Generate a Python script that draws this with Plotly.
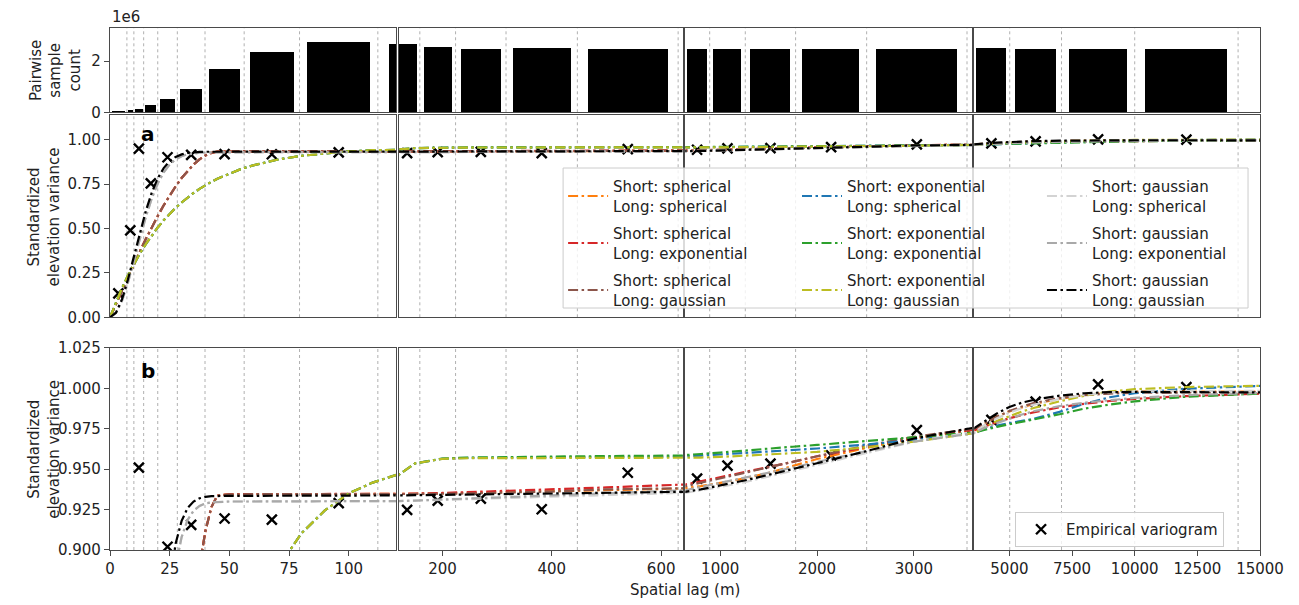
import plotly.graph_objects as go

# ---------------- data ----------------
bin_edges = [0, 7.08, 10.0, 14.1, 20.0, 28.2, 39.8, 56.2, 79.4, 112.2, 158.5, 223.9,
             316.2, 446.7, 631.0, 891.3, 1258.9, 1778.3, 2511.9, 3548.1, 5011.9,
             7079.5, 10000.0, 14125.4]
bin_centers = [3.5, 8.5, 12.1, 17.1, 24.1, 34.0, 48.0, 67.8, 95.8, 135.3, 191.2, 270.1,
               381.5, 538.9, 761.2, 1075.1, 1518.6, 2145.1, 3030.0, 4280.0, 6045.7,
               8539.7, 12062.7]
pair_count = [0.05e6, 0.09e6, 0.11e6, 0.28e6, 0.52e6, 0.90e6, 1.69e6, 2.35e6, 2.75e6,
              2.66e6, 2.56e6, 2.49e6, 2.51e6, 2.49e6,
              2.48e6, 2.48e6, 2.49e6, 2.48e6, 2.48e6,
              2.52e6, 2.49e6, 2.48e6, 2.47e6]
empirical = [0.135, 0.49, 0.951, 0.755, 0.902, 0.9155, 0.9195, 0.9188, 0.929,
             0.9248, 0.9305, 0.9318, 0.9252, 0.9478,
             0.9442, 0.9522, 0.9535, 0.9585, 0.9742,
             0.9805, 0.9918, 1.0025, 1.0008]

lag = [0, 2.5, 5, 7.5, 10, 12.5, 15, 17.5, 20, 22.5, 25, 27.5, 30, 32.5, 35, 37.5, 40,
       42.5, 45, 50, 55, 60, 70, 80, 90, 100, 110, 120,
       150, 200, 250, 300, 400, 500, 640,
       800, 1000, 1250, 1500, 1750, 2000, 2500, 3000, 3600,
       4000, 4500, 5000, 5500, 6000, 7000, 8000, 9000, 10000, 12000, 15000]

var_sph_sph = [0, 0.076, 0.152, 0.2265, 0.300, 0.3715, 0.441, 0.5076, 0.571, 0.631, 0.687,
               0.738, 0.785, 0.826, 0.861, 0.890, 0.912, 0.9266, 0.9338, 0.9345, 0.9345,
               0.9345, 0.9345, 0.9345, 0.9345, 0.9346, 0.9346, 0.9347,
               0.9348, 0.935, 0.9353, 0.9356, 0.9363, 0.937, 0.938,
               0.9395, 0.9415, 0.9443, 0.9477, 0.952, 0.9563, 0.963, 0.969, 0.9745,
               0.978, 0.9825, 0.9858, 0.988, 0.9905, 0.9935, 0.996, 0.9975, 0.998, 0.998, 0.998]
var_sph_exp = [0, 0.076, 0.152, 0.2265, 0.300, 0.3715, 0.441, 0.5076, 0.571, 0.631, 0.687,
               0.738, 0.785, 0.826, 0.861, 0.890, 0.912, 0.9266, 0.9338, 0.9345, 0.9345,
               0.9345, 0.9345, 0.9345, 0.9346, 0.9346, 0.9347, 0.9348,
               0.9349, 0.9353, 0.9358, 0.9363, 0.9374, 0.9387, 0.9405,
               0.9425, 0.945, 0.948, 0.951, 0.9545, 0.958, 0.9637, 0.969, 0.974,
               0.9765, 0.9792, 0.9815, 0.9835, 0.9853, 0.9883, 0.9905, 0.9922, 0.9935, 0.9952, 0.9967]
var_sph_gau = [0, 0.076, 0.152, 0.2265, 0.300, 0.3715, 0.441, 0.5076, 0.571, 0.631, 0.687,
               0.738, 0.785, 0.826, 0.861, 0.890, 0.912, 0.9266, 0.9338, 0.9345, 0.9345,
               0.9345, 0.9345, 0.9345, 0.9345, 0.9345, 0.9345, 0.9345,
               0.9346, 0.9348, 0.935, 0.9353, 0.9362, 0.9375, 0.9394,
               0.9415, 0.9442, 0.9477, 0.9512, 0.9547, 0.958, 0.9645, 0.970, 0.975,
               0.9785, 0.9825, 0.986, 0.9888, 0.991, 0.994, 0.9958, 0.9968, 0.9973, 0.9976, 0.9977]
var_exp_sph = [0, 0.0859, 0.1637, 0.2355, 0.2997, 0.359, 0.4125, 0.4613, 0.5063, 0.5465,
               0.5828, 0.6173, 0.647, 0.6747, 0.7005, 0.7235, 0.7445, 0.7637, 0.781, 0.8106,
               0.8364, 0.8565, 0.888, 0.910, 0.9245, 0.935, 0.9417, 0.9465,
               0.9536, 0.9565, 0.957, 0.9572, 0.9574, 0.9576, 0.9579,
               0.9584, 0.9591, 0.96, 0.961, 0.9619, 0.9628, 0.9652, 0.968, 0.9725,
               0.9748, 0.977, 0.9785, 0.980, 0.9813, 0.9855, 0.9905, 0.9945, 0.997, 0.9998, 1.0015]
var_exp_exp = [0, 0.0859, 0.1637, 0.2355, 0.2997, 0.359, 0.4125, 0.4613, 0.5063, 0.5465,
               0.5828, 0.6173, 0.647, 0.6747, 0.7005, 0.7235, 0.7445, 0.7637, 0.781, 0.8106,
               0.8364, 0.8565, 0.888, 0.910, 0.9245, 0.935, 0.9417, 0.9465,
               0.9536, 0.9566, 0.9572, 0.9575, 0.9578, 0.9581, 0.9586,
               0.9594, 0.9603, 0.9616, 0.9628, 0.9639, 0.965, 0.9674, 0.9698, 0.9728,
               0.9745, 0.9762, 0.9778, 0.9793, 0.9806, 0.984, 0.9875, 0.990, 0.992, 0.9948, 0.9968]
var_exp_gau = [0, 0.0859, 0.1637, 0.2355, 0.2997, 0.359, 0.4125, 0.4613, 0.5063, 0.5465,
               0.5828, 0.6173, 0.647, 0.6747, 0.7005, 0.7235, 0.7445, 0.7637, 0.781, 0.8106,
               0.8364, 0.8565, 0.888, 0.910, 0.9245, 0.935, 0.9417, 0.9465,
               0.9536, 0.9564, 0.9568, 0.9569, 0.957, 0.957, 0.9571,
               0.9572, 0.9576, 0.9583, 0.9591, 0.9598, 0.9607, 0.9635, 0.967, 0.9722,
               0.976, 0.9798, 0.983, 0.9857, 0.988, 0.992, 0.9955, 0.998, 0.9995, 1.0008, 1.0016]
var_gau_sph = [0, 0.024, 0.092, 0.194, 0.317, 0.4445, 0.5655, 0.670, 0.754, 0.817, 0.861,
               0.890, 0.908, 0.9186, 0.9243, 0.9273, 0.9288, 0.9295, 0.9298, 0.930, 0.930,
               0.930, 0.9301, 0.9301, 0.9302, 0.9302, 0.9303, 0.9303,
               0.9305, 0.931, 0.9315, 0.932, 0.933, 0.934, 0.9355,
               0.937, 0.939, 0.942, 0.9453, 0.949, 0.9527, 0.960, 0.967, 0.973,
               0.9772, 0.9815, 0.985, 0.9878, 0.990, 0.9935, 0.996, 0.9975, 0.998, 0.9985, 0.9985]
var_gau_exp = [0, 0.024, 0.092, 0.194, 0.317, 0.4445, 0.5655, 0.670, 0.754, 0.817, 0.861,
               0.890, 0.908, 0.9186, 0.9243, 0.9273, 0.9288, 0.9295, 0.9298, 0.930, 0.930,
               0.930, 0.9301, 0.9301, 0.9302, 0.9302, 0.9303, 0.9303,
               0.9306, 0.9312, 0.9318, 0.9324, 0.9337, 0.9351, 0.937,
               0.939, 0.9415, 0.9445, 0.9476, 0.951, 0.9545, 0.961, 0.967, 0.9725,
               0.9755, 0.9785, 0.9813, 0.9838, 0.986, 0.989, 0.9912, 0.9928, 0.9941, 0.9958, 0.9972]
var_gau_gau = [0, 0.026, 0.1005, 0.2114, 0.342, 0.476, 0.5995, 0.703, 0.783, 0.841, 0.8797,
               0.904, 0.918, 0.926, 0.930, 0.932, 0.9329, 0.9333, 0.9335, 0.9335, 0.9335,
               0.9335, 0.9336, 0.9336, 0.9337, 0.9337, 0.9338, 0.9338,
               0.9339, 0.9341, 0.9343, 0.9345, 0.935, 0.9354, 0.936,
               0.9375, 0.9398, 0.943, 0.9465, 0.950, 0.9537, 0.961, 0.969, 0.9755,
               0.9795, 0.9845, 0.9885, 0.9912, 0.993, 0.9955, 0.997, 0.9977, 0.9978, 0.9978, 0.9975]

model_labels = ["Short: spherical<br>Long: spherical", "Short: spherical<br>Long: exponential",
                "Short: spherical<br>Long: gaussian", "Short: exponential<br>Long: spherical",
                "Short: exponential<br>Long: exponential", "Short: exponential<br>Long: gaussian",
                "Short: gaussian<br>Long: spherical", "Short: gaussian<br>Long: exponential",
                "Short: gaussian<br>Long: gaussian"]
model_values = [var_sph_sph, var_sph_exp, var_sph_gau, var_exp_sph, var_exp_exp,
                var_exp_gau, var_gau_sph, var_gau_exp, var_gau_gau]
model_colors = ["#ff7f0e", "#d62728", "#8c564b", "#1f77b4", "#2ca02c", "#bcbd22",
                "#d3d3d3", "#a9a9a9", "#000000"]
model_legend = ["legend", "legend", "legend", "legend3", "legend3", "legend3",
                "legend4", "legend4", "legend4"]

col_ranges = [[0, 120], [120, 640], [640, 3600], [3600, 15000]]
col_ticks = [[0, 25, 50, 75, 100], [200, 400, 600], [1000, 2000, 3000],
             [5000, 7500, 10000, 12500, 15000]]

# ---------------- layout geometry ----------------
col_domains = [[0.0, 0.2491], [0.2511, 0.4983], [0.5003, 0.7496], [0.7516, 1.0]]
row_domains = [[0.8385, 1.0], [0.4458, 0.8333], [0.0, 0.387]]
row_ranges = [[0, 3.3e6], [0, 1.14], [0.9, 1.025]]
row_ticks = [([0, 2e6], ["0", "2"]),
             ([0, 0.25, 0.5, 0.75, 1.0], ["0.00", "0.25", "0.50", "0.75", "1.00"]),
             ([0.9, 0.925, 0.95, 0.975, 1.0, 1.025],
              ["0.900", "0.925", "0.950", "0.975", "1.000", "1.025"])]

FONT = "DejaVu Sans"
SPINE = "#4a4a4a"

fig = go.Figure()

def ax_id(r, c):
    return r * 4 + c + 1

def xname(n):
    return "x" if n == 1 else f"x{n}"

def yname(n):
    return "y" if n == 1 else f"y{n}"

bar_widths = [0.8 * (b - a) for a, b in zip(bin_edges[:-1], bin_edges[1:])]

# bars (row 0)
for c in range(4):
    n = ax_id(0, c)
    fig.add_trace(go.Bar(x=bin_centers, y=pair_count, width=bar_widths,
                         marker=dict(color="black", line=dict(width=0)),
                         xaxis=xname(n), yaxis=yname(n), showlegend=False,
                         hoverinfo="skip"))

# empirical + models (rows 1, 2)
for r in (1, 2):
    for c in range(4):
        n = ax_id(r, c)
        fig.add_trace(go.Scatter(
            x=bin_centers, y=empirical, mode="markers",
            marker=dict(symbol="x-thin", size=10, line=dict(width=2.4, color="black"),
                        color="black"),
            name="Empirical variogram", legend="legend2",
            showlegend=(r == 2 and c == 0),
            xaxis=xname(n), yaxis=yname(n), cliponaxis=True))
        for k in range(9):
            fig.add_trace(go.Scatter(
                x=lag, y=model_values[k], mode="lines",
                line=dict(color=model_colors[k], width=2.2, dash="10px,3.5px,2.5px,3.5px"),
                name=model_labels[k], legendgroup=f"m{k}",
                showlegend=(r == 1 and c == 0), legend=model_legend[k],
                xaxis=xname(n), yaxis=yname(n)))

layout = dict(
    width=1299, height=605,
    margin=dict(l=102, r=47, t=20, b=63),
    paper_bgcolor="white", plot_bgcolor="white",
    font=dict(family=FONT, size=15, color="#222222"),
    showlegend=True,
    bargap=0,
)

shapes = []
for r in range(3):
    for c in range(4):
        n = ax_id(r, c)
        xa = dict(domain=col_domains[c], range=col_ranges[c], anchor=yname(n),
                  showline=True, mirror=True, linecolor=SPINE, linewidth=1.2,
                  showgrid=False, zeroline=False, fixedrange=True)
        if r == 2:
            xa.update(tickvals=col_ticks[c], ticktext=[str(v) for v in col_ticks[c]],
                      ticks="outside", ticklen=5, tickcolor=SPINE, showticklabels=True,
                      tickfont=dict(size=15))
        else:
            xa.update(showticklabels=False, ticks="")
        ya = dict(domain=row_domains[r], range=row_ranges[r], anchor=xname(n),
                  showline=True, mirror=True, linecolor=SPINE, linewidth=1.2,
                  showgrid=False, zeroline=False, fixedrange=True)
        if c == 0:
            ya.update(tickvals=row_ticks[r][0], ticktext=row_ticks[r][1],
                      ticks="outside", ticklen=5, tickcolor=SPINE, tickfont=dict(size=15))
        else:
            ya.update(showticklabels=False, ticks="")
        layout["xaxis" if n == 1 else f"xaxis{n}"] = xa
        layout["yaxis" if n == 1 else f"yaxis{n}"] = ya
        lo, hi = col_ranges[c]
        for e in bin_edges:
            if lo < e < hi:
                shapes.append(dict(type="line", xref=xname(n), yref=f"{yname(n)} domain",
                                   x0=e, x1=e, y0=0, y1=1, layer="below",
                                   line=dict(color="#b0b0b0", width=1, dash="dot")))

# semi-transparent frame behind the 3-column model legend
shapes.append(dict(type="rect", xref="paper", yref="paper", x0=0.394, x1=0.9896,
                   y0=0.4636, y1=0.7318, layer="above",
                   fillcolor="rgba(255,255,255,0.8)", line=dict(color="#cccccc", width=1)))
layout["shapes"] = shapes

leg_common = dict(xanchor="left", yanchor="top", xref="paper", yref="paper",
                  bgcolor="rgba(0,0,0,0)", borderwidth=0, itemwidth=40,
                  tracegroupgap=5, orientation="v",
                  font=dict(size=15, family=FONT, color="#222222"))
layout["legend"] = dict(x=0.3940, y=0.728, **leg_common)
layout["legend3"] = dict(x=0.5974, y=0.728, **leg_common)
layout["legend4"] = dict(x=0.8104, y=0.728, **leg_common)
layout["legend2"] = dict(x=0.787, y=0.0728, xanchor="left", yanchor="top", xref="paper",
                         yref="paper", orientation="v", itemwidth=40,
                         bgcolor="rgba(255,255,255,0.8)", bordercolor="#cccccc",
                         borderwidth=1, font=dict(size=15, family=FONT, color="#222222"))

annotations = [
    dict(text="1e6", xref="paper", yref="paper", x=0.0, y=1.0, xanchor="left",
         yanchor="bottom", showarrow=False, font=dict(size=15)),
    dict(text="<b>a</b>", xref="x5 domain", yref="y5 domain", x=0.10, y=0.975,
         xanchor="left", yanchor="top", showarrow=False, font=dict(size=20, color="black")),
    dict(text="<b>b</b>", xref="x9 domain", yref="y9 domain", x=0.10, y=0.955,
         xanchor="left", yanchor="top", showarrow=False, font=dict(size=20, color="black")),
    dict(text="Spatial lag (m)", xref="paper", yref="paper", x=0.5, y=-0.077,
         xanchor="center", yanchor="middle", showarrow=False, font=dict(size=15)),
    dict(text="Pairwise<br>sample<br>count", xref="paper", yref="paper", x=-0.048,
         y=0.919, xanchor="center", yanchor="middle", textangle=-90, showarrow=False,
         font=dict(size=15)),
    dict(text="Standardized<br>elevation variance", xref="paper", yref="paper", x=-0.057,
         y=0.638, xanchor="center", yanchor="middle", textangle=-90, showarrow=False,
         font=dict(size=15)),
    dict(text="Standardized<br>elevation variance", xref="paper", yref="paper", x=-0.057,
         y=0.193, xanchor="center", yanchor="middle", textangle=-90, showarrow=False,
         font=dict(size=15)),
]
layout["annotations"] = annotations

fig.update_layout(**layout)
fig.write_html("out.html")
